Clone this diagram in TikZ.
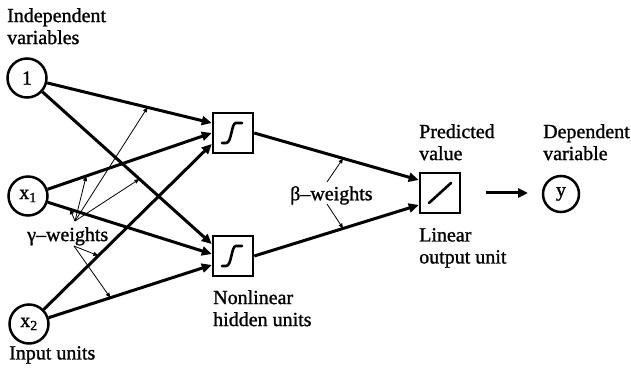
\documentclass[tikz,border=0pt]{standalone}
\usepackage{fontspec}
\setmainfont{Liberation Serif}[FakeBold=1.2]
\usetikzlibrary{arrows.meta,calc}
\begin{document}
\begin{tikzpicture}[x=1pt,y=-1pt,
  font=\fontsize{20}{22}\selectfont,
  unit/.style={circle,draw,line width=2.5pt,minimum size=39pt,inner sep=0pt},
  box/.style={draw,line width=2.5pt,minimum size=40pt,inner sep=0pt},
  lbl/.style={align=left,inner sep=0pt,anchor=north west},
  wire/.style={line width=3pt,-{Triangle[length=10pt,width=9pt]}},
  weight/.style={line width=0.8pt,-{Triangle[length=5pt,width=4pt]}},
  glyph/.style={line width=2.6pt,line cap=round}]
\useasboundingbox (0,0) rectangle (631,371);

% units
\node[unit] (c1) at (27,78) {1};
\node[unit] (cx1) at (28,196) {x\textsubscript{1}};
\node[unit] (cx2) at (29,324) {x\textsubscript{2}};
\node[box] (h1) at (233,133) {};
\node[box] (h2) at (233,256) {};
\node[box] (o) at (440,193) {};
\node[unit,minimum size=36pt] (yv) at (561,194) {y};

% glyphs in boxes
\draw[glyph] ($(h1)+(-11,10)$) -- ($(h1)+(-7,10)$) .. controls ($(h1)+(-1,10)$) and ($(h1)+(-2,-10)$) .. ($(h1)+(3,-10)$) -- ($(h1)+(9,-10)$);
\draw[glyph] ($(h2)+(-11,10)$) -- ($(h2)+(-7,10)$) .. controls ($(h2)+(-1,10)$) and ($(h2)+(-2,-10)$) .. ($(h2)+(3,-10)$) -- ($(h2)+(9,-10)$);
\draw[glyph] ($(o)+(-11,10)$) -- ($(o)+(11,-10)$);

% connections input -> hidden
\draw[wire] (c1) -- coordinate[pos=0.61] (a1) ($(h1.west)+(0,-10)$);
\draw[wire] (c1) -- coordinate[pos=0.573] (a2) ($(h2.west)+(0,-12)$);
\draw[wire] (cx1) -- coordinate[pos=0.235] (a3) ($(h1.west)+(0,0)$);
\draw[wire] (cx1) -- coordinate[pos=0.136] (a4) ($(h2.west)+(0,-2)$);
\draw[wire] (cx2) -- coordinate[pos=0.325] (a5) ($(h1.west)+(0,11)$);
\draw[wire] (cx2) -- coordinate[pos=0.378] (a6) ($(h2.west)+(0,9)$);

% hidden -> output
\draw[wire] (h1.east) -- coordinate[pos=0.54] (b1) ($(o.west)+(0,-13)$);
\draw[wire] (h2.east) -- coordinate[pos=0.54] (b2) ($(o.west)+(0,12)$);

% output -> y
\coordinate (oa) at (486,193);
\coordinate (ob) at (528,193);
\draw[wire] (oa) -- (ob);

% weight labels
\node[lbl] (tgw) at (27,227) {γ–weights};
\node[lbl] (tbw) at (290,186) {β–weights};
\coordinate (gu) at (75,221);
\coordinate (gd) at (74,246);
\coordinate (bu) at (327,182);
\coordinate (bd) at (327,204);
\foreach \t in {a1,a2,a3,a4} \draw[weight] (gu) -- (\t);
\foreach \t in {a5,a6} \draw[weight] (gd) -- (\t);
\draw[weight] (bu) -- (b1);
\draw[weight] (bd) -- (b2);

% texts
\node[lbl] (tiv) at (7,8) {Independent\\variables};
\node[lbl] (tin) at (9,346) {Input units};
\node[lbl] (tpv) at (419,124) {Predicted\\value};
\node[lbl] (tdv) at (543,124) {Dependent\\variable};
\node[lbl] (tlo) at (419,228) {Linear\\output unit};
\node[lbl] (tnh) at (213,290) {Nonlinear\\hidden units};
\end{tikzpicture}
\end{document}
